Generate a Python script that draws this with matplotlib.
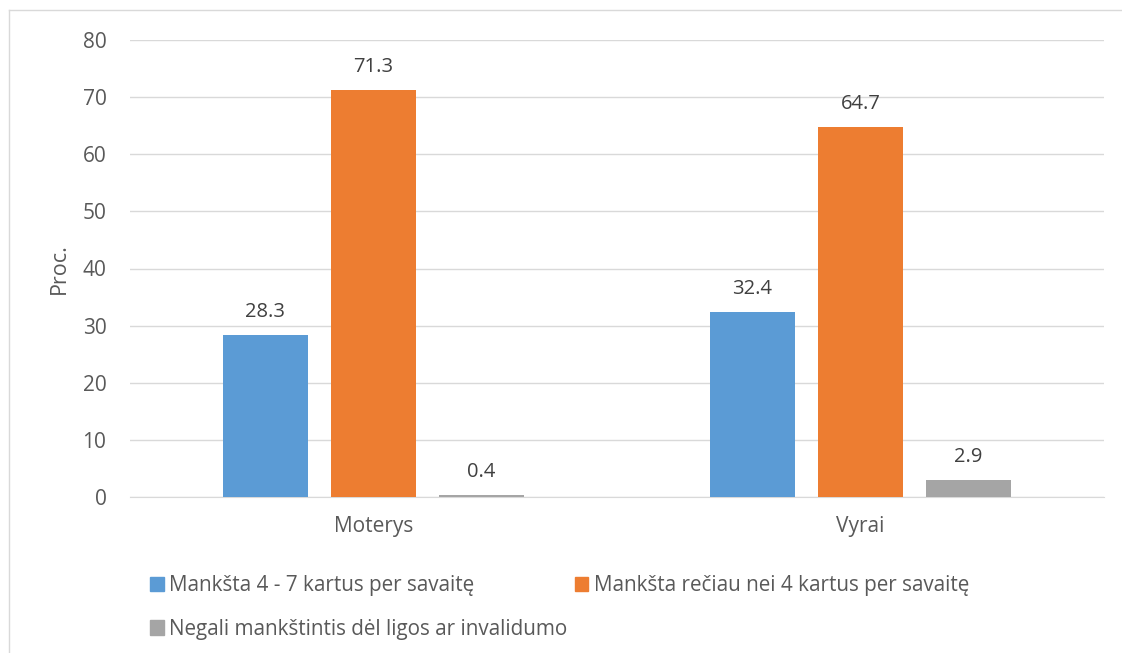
import matplotlib.pyplot as plt
from matplotlib.patches import Patch
from matplotlib.lines import Line2D
import numpy as np

categories = ["Moterys", "Vyrai"]
series_names = [
    "Mankšta 4 - 7 kartus per savaitę",
    "Mankšta rečiau nei 4 kartus per savaitę",
    "Negali mankštintis dėl ligos ar invalidumo",
]
values = [
    [28.3, 32.4],
    [71.3, 64.7],
    [0.4, 2.9],
]
colors = ["#5B9BD5", "#ED7D31", "#A5A5A5"]
text_color = "#595959"

plt.rcParams["font.family"] = ["Open Sans", "DejaVu Sans"]

fig = plt.figure(figsize=(11.22, 6.53), dpi=100)
ax = fig.add_axes([130 / 1122, 1 - 497 / 653, 974 / 1122, 457 / 653])

x = np.arange(len(categories))
width = 0.1745
step = 0.2218
for i, (name, vals, c) in enumerate(zip(series_names, values, colors)):
    pos = x + (i - 1) * step
    ax.bar(pos, vals, width, color=c, label=name, zorder=3)
    for px, v in zip(pos, vals):
        ax.annotate(f"{v:.1f}", (px, v), xytext=(0, 13), textcoords="offset points",
                    ha="center", va="baseline", fontsize=14.5, color="#404040")

ax.set_xlim(-0.5, 1.5)
ax.set_ylim(0, 80)
ax.set_yticks(range(0, 81, 10))
ax.set_xticks(x)
ax.set_xticklabels(categories)
ax.yaxis.grid(True, color="#D9D9D9", linewidth=1, zorder=0)
ax.tick_params(axis="both", length=0, labelsize=15, labelcolor=text_color)
ax.tick_params(axis="y", pad=17)
ax.tick_params(axis="x", pad=14)
for s in ["top", "right", "left"]:
    ax.spines[s].set_visible(False)
ax.spines["bottom"].set_color("#D9D9D9")
ax.set_ylabel("Proc.", fontsize=15.5, color=text_color, labelpad=9)

handles = [Patch(color=c) for c in colors]
order = [0, 2, 1]
fig.legend([handles[i] for i in order], [series_names[i] for i in order],
           ncol=2, loc="upper left", bbox_to_anchor=(150 / 1122, 1 - 575 / 653),
           frameon=False, fontsize=14.9, labelcolor=text_color, borderpad=0,
           borderaxespad=0, handlelength=0.67, handleheight=0.67, handletextpad=0.25,
           columnspacing=0.35, labelspacing=1.1)

# chart border (only top and left edges are visible in the reference)
fig.add_artist(Line2D([9 / 1122, 1], [1 - 10 / 653, 1 - 10 / 653],
                      transform=fig.transFigure, color="#D9D9D9", linewidth=1))
fig.add_artist(Line2D([9 / 1122, 9 / 1122], [0, 1 - 10 / 653],
                      transform=fig.transFigure, color="#D9D9D9", linewidth=1))

fig.savefig("out.png", dpi=100)
